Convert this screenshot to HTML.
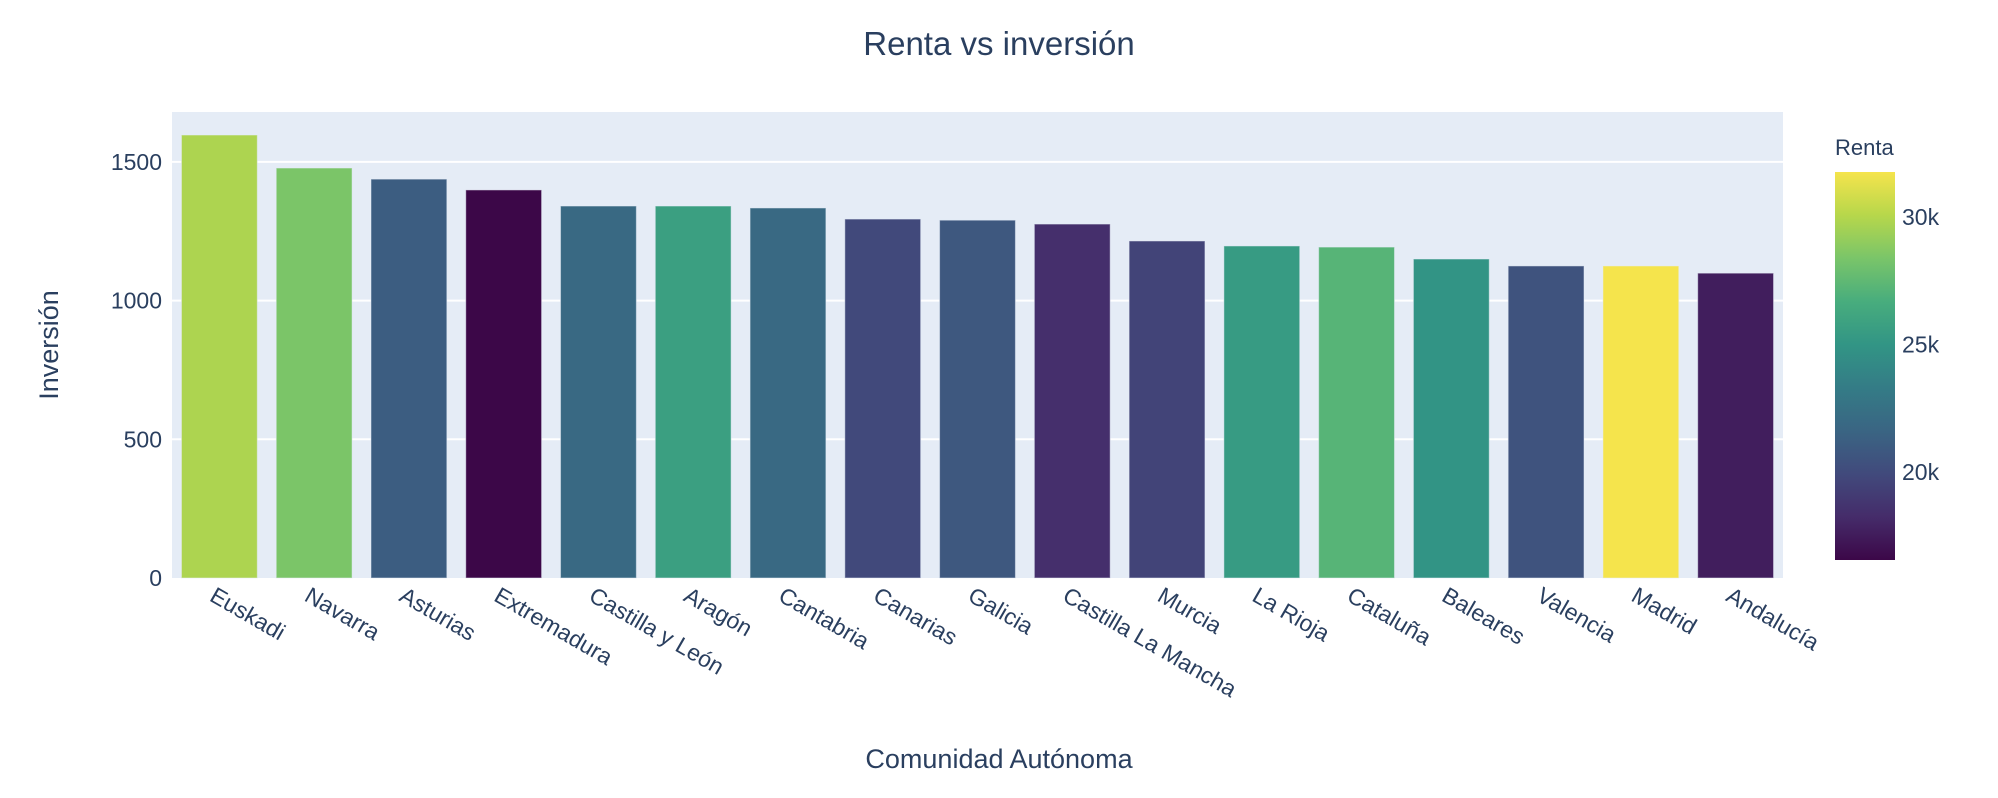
<!DOCTYPE html>
<html><head><meta charset="utf-8">
<style>
html,body{margin:0;padding:0;background:#fff;}
svg{display:block;font-family:"Liberation Sans","DejaVu Sans",sans-serif;}
</style></head>
<body>
<svg id="chart" width="1998" height="798" xmlns="http://www.w3.org/2000/svg">
<defs>
<linearGradient id="vir" x1="0" y1="1" x2="0" y2="0"></linearGradient>
</defs>
<rect x="172" y="112" width="1611" height="466" fill="#e5ecf6"/>
<g id="grid"></g>
<g id="bars"></g>
<g id="yticks"></g>
<g id="xticks"></g>
<text x="999" y="55" text-anchor="middle" font-size="33" fill="#2a3f5f">Renta vs inversión</text>
<text x="999" y="768" text-anchor="middle" font-size="27" fill="#2a3f5f">Comunidad Autónoma</text>
<text transform="translate(58,345) rotate(-90)" text-anchor="middle" font-size="27" fill="#2a3f5f">Inversión</text>
<text x="1835" y="155" font-size="22" fill="#2a3f5f">Renta</text>
<rect x="1835" y="172" width="60" height="388" fill="url(#vir)"/>
<g id="cticks"></g>
</svg>
<script>
const categories=["Euskadi","Navarra","Asturias","Extremadura","Castilla y León","Aragón","Cantabria","Canarias","Galicia","Castilla La Mancha","Murcia","La Rioja","Cataluña","Baleares","Valencia","Madrid","Andalucía"];
const inversion=[1597,1478,1438,1399,1341,1341,1334,1294,1290,1276,1215,1197,1193,1150,1125,1125,1099];
const renta=[29800,28400,21100,16550,21900,25700,21900,19900,20800,18400,19600,25400,27200,24900,20500,31760,17600];
const yTicks=[0,500,1000,1500];
const cTicks=[20000,25000,30000];
const cTickLabels=["20k","25k","30k"];

const NS="http://www.w3.org/2000/svg";
const X0=172,W=1611,Y0=578,YT=112,YMAX=1680;
const CB_T=172,CB_B=560;
const CMIN=Math.min(...renta),CMAX=Math.max(...renta);
const y=v=>Y0-(v/YMAX)*(Y0-YT);
const step=W/categories.length;
const xc=i=>X0+step*(i+0.5);
const cy=v=>CB_B-(v-CMIN)/(CMAX-CMIN)*(CB_B-CB_T);
const vir=[[68,1,84],[72,40,120],[62,73,137],[49,104,142],[38,130,142],[31,158,137],[53,183,121],[110,206,88],[181,222,43],[253,231,37]];
function mute(c){const l=0.3*c[0]+0.59*c[1]+0.11*c[2];return c.map(a=>Math.round(a*0.78+l*0.22));}
function rgb(c){return `rgb(${c[0]},${c[1]},${c[2]})`;}
function color(v){let t=(v-CMIN)/(CMAX-CMIN);t=Math.max(0,Math.min(1,t))*9;const i=Math.min(8,Math.floor(t)),f=t-i;
const c=vir[i].map((a,k)=>a+(vir[i+1][k]-a)*f);return rgb(mute(c));}
function mk(tag,attrs,parent,txt){const e=(typeof parent==='string')?document.createElementNS(NS,tag):document.createElementNS(NS,tag);for(const k in attrs)e.setAttribute(k,attrs[k]);if(txt!==undefined)e.textContent=txt;(typeof parent==='string'?document.getElementById(parent):parent).appendChild(e);return e;}
const grad=document.getElementById('vir');
vir.forEach((c,i)=>{const s=document.createElementNS(NS,'stop');s.setAttribute('offset',i/9);s.setAttribute('stop-color',rgb(mute(c)));grad.appendChild(s);});

yTicks.forEach(v=>{
  if(v>0){const g=mk('line',{x1:X0,x2:X0+W,y1:y(v),y2:y(v),stroke:'#fff','stroke-width':2},'grid');
  
  }
  const t=mk('text',{x:X0-10,y:y(v)+8,'text-anchor':'end','font-size':23,fill:'#2a3f5f'},'yticks',String(v));
  
  
});
categories.forEach((c,i)=>{
  const bw=step*0.8;
  const r=mk('rect',{x:xc(i)-bw/2,y:y(inversion[i]),width:bw,height:Y0-y(inversion[i]),fill:color(renta[i]),stroke:'rgba(229,236,246,0.5)','stroke-width':1},'bars');
  
  
  const t=mk('text',{transform:`translate(${xc(i)-11},${600}) rotate(30)`,'font-size':23,fill:'#2a3f5f'},'xticks',c);
  
  
});
cTicks.forEach((v,i)=>{
  const t=mk('text',{x:1902,y:cy(v)+8,'font-size':23,fill:'#2a3f5f'},'cticks',cTickLabels[i]);
  
  
});
</script>
</body></html>
